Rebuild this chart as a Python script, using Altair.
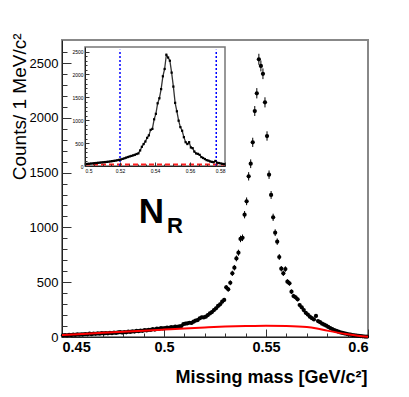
import altair as alt
import numpy as np
import pandas as pd

# ---------------- data ----------------
bin_start = 0.45
bin_width = 0.001
counts = [
    15, 18, 14, 20, 17, 22, 19, 24, 21, 25,
    23, 27, 25, 30, 26, 31, 29, 33, 30, 35,
    32, 36, 34, 38, 35, 40, 37, 42, 44, 40,
    45, 43, 48, 46, 52, 50, 55, 53, 58, 56,
    62, 60, 66, 64, 72, 68, 76, 74, 82, 78,
    82, 86, 84, 90, 88, 95, 92, 98, 100, 118,
    122, 125, 130, 128, 140, 150, 155, 170, 180, 178,
    185, 200, 215, 228, 246, 262, 283, 298, 322, 338,
    453, 435, 495, 581, 632, 717, 769, 895, 905, 1116,
    1238, 1466, 1581, 1776, 2062, 2224, 2534, 2473, 2402, 2141,
    1834, 1481, 1296, 1092, 952, 870, 730, 623, 581, 620,
    505, 490, 413, 374, 362, 344, 292, 271, 246, 221,
    205, 185, 172, 160, 192, 145, 135, 122, 112, 103,
    92, 82, 72, 62, 55, 48, 42, 37, 33, 29,
    25, 21, 18, 15, 12, 10, 8, 6, 4, 3,
]
bkg_x = [0.45, 0.46, 0.47, 0.48, 0.49, 0.50, 0.51, 0.52, 0.53, 0.54, 0.55,
         0.56, 0.57, 0.575, 0.58, 0.585, 0.59, 0.595, 0.60]
bkg_y = [18, 28, 38, 48, 58, 68, 78, 87, 95, 100, 103,
         101, 92, 78, 58, 40, 25, 12, 2]

inset_start = 0.50
inset_counts = [
    43, 47, 50, 54, 57, 62, 66, 70, 74, 78,
    82, 86, 90, 95, 100, 106, 112, 118, 126, 134,
    142, 155, 168, 182, 196, 208, 220, 232, 245, 262,
    275, 340, 420, 480, 535, 615, 670, 790, 810, 1020,
    1140, 1370, 1480, 1680, 1960, 2120, 2430, 2370, 2300, 2040,
    1735, 1380, 1195, 990, 850, 770, 630, 520, 480, 520,
    405, 390, 315, 275, 265, 244, 195, 175, 152, 128,
    118, 100, 90, 82, 110, 72, 65, 56, 48, 40,
]
window_edges = [0.52, 0.575]
inset_zero_level = [35]

x_ticks = [0.45, 0.5, 0.55, 0.6]
x_minor = [0.46, 0.47, 0.48, 0.49, 0.51, 0.52, 0.53, 0.54, 0.56, 0.57, 0.58, 0.59]
y_ticks = [0, 500, 1000, 1500, 2000, 2500]
y_minor = [v for v in range(100, 2700, 100) if v % 500 != 0]
ix_ticks = [0.5, 0.52, 0.54, 0.56, 0.58]
ix_minor = [0.505, 0.51, 0.515, 0.525, 0.53, 0.535, 0.545, 0.55, 0.555,
            0.565, 0.57, 0.575]
iy_ticks = [0, 500, 1000, 1500, 2000, 2500]
iy_minor = [v for v in range(100, 2600, 100) if v % 500 != 0]
label_text = ["N", "R"]

# ---------------- layout ----------------
W, H = 306, 297
FONT = "Liberation Sans"
X_DOM = [0.45, 0.60]
Y_DOM = [0, 2710]
IX_DOM = [0.50, 0.58]
IY_DOM = [0, 2600]
IX_RANGE = [23, 163]
IY_RANGE = [126, 7]

centers = np.round(bin_start + bin_width * (np.arange(len(counts)) + 0.5), 4)
main_df = pd.DataFrame({"mass": centers, "n": counts})
bkg_df = pd.DataFrame({"mass": bkg_x, "fit": bkg_y})
icenters = np.round(inset_start + bin_width * (np.arange(len(inset_counts)) + 0.5), 4)
inset_df = pd.DataFrame({"mass": icenters, "n": inset_counts})

xs = alt.Scale(domain=X_DOM, nice=False, zero=False)
ys = alt.Scale(domain=Y_DOM, nice=False, zero=False)
ixs = alt.Scale(domain=IX_DOM, range=IX_RANGE, nice=False, zero=False)
iys = alt.Scale(domain=IY_DOM, range=IY_RANGE, nice=False, zero=False)

# main points with labelled axes
pts = alt.Chart(main_df).mark_circle(size=18, color="black", opacity=1).encode(
    x=alt.X("mass:Q", scale=xs, axis=alt.Axis(
        orient="bottom", values=x_ticks, format=".2~f", tickSize=0,
        labelFont=FONT, labelFontSize=14.5, labelFontWeight="bold", labelColor="black",
        labelPadding=3, domainColor="#222", domainWidth=1,
        title="Missing mass [GeV/c²]", titleFont=FONT, titleFontSize=18,
        titleFontWeight="bold", titleColor="black", titleX=W - 1, titleY=45,
        titleAlign="right", titleBaseline="alphabetic", grid=False)),
    y=alt.Y("n:Q", scale=ys, axis=alt.Axis(
        orient="left", values=y_ticks, format="d", tickSize=0,
        labelFont=FONT, labelFontSize=13, labelColor="black", labelPadding=4,
        domainColor="#222", domainWidth=1,
        title="Counts/ 1 MeV/c²", titleFont=FONT, titleFontSize=19,
        titleFontWeight="normal", titleColor="black", titleX=-37, titleY=-7,
        titleAngle=270, titleAlign="right", titleBaseline="alphabetic", grid=False)),
)

err = alt.Chart(main_df).transform_calculate(
    lo="datum.n - sqrt(datum.n)", hi="datum.n + sqrt(datum.n)"
).mark_rule(color="black", strokeWidth=1).encode(
    x=alt.X("mass:Q", scale=xs, axis=None),
    y=alt.Y("lo:Q", scale=ys, axis=None),
    y2="hi:Q",
)

bkg = alt.Chart(bkg_df).mark_line(color="#ff0000", strokeWidth=2, interpolate="monotone").encode(
    x=alt.X("mass:Q", scale=xs, axis=None),
    y=alt.Y("fit:Q", scale=ys, axis=None),
)


def tick_layer(df, xscale, yscale, xvals, yvals, xlen, ylen, xoff, yoff, z=0):
    return alt.Chart(df).mark_point(opacity=0, size=1).encode(
        x=alt.X("mass:Q", scale=xscale, axis=alt.Axis(
            orient="top", offset=xoff, values=xvals, labels=False, domain=False,
            tickSize=xlen, tickColor="#333", tickWidth=1, title=None, grid=False, zindex=z)),
        y=alt.Y("n:Q", scale=yscale, axis=alt.Axis(
            orient="right", offset=yoff, values=yvals, labels=False, domain=False,
            tickSize=ylen, tickColor="#333", tickWidth=1, title=None, grid=False, zindex=z)),
    )


main_major = tick_layer(main_df, xs, ys, x_ticks, y_ticks, 8, 9, -H, -W)
main_minor = tick_layer(main_df, xs, ys, x_minor, y_minor, 4, 5, -H, -W)

txt_df = pd.DataFrame({"t": label_text})
txt_n = alt.Chart(txt_df).transform_filter("datum.t == 'N'").mark_text(
    font=FONT, fontSize=35, fontWeight="bold", color="black", align="right",
    baseline="alphabetic").encode(text="t:N", x=alt.value(102), y=alt.value(183))
txt_r = alt.Chart(txt_df).transform_filter("datum.t == 'R'").mark_text(
    font=FONT, fontSize=22, fontWeight="bold", color="black", align="left",
    baseline="alphabetic").encode(text="t:N", x=alt.value(105), y=alt.value(193))

main = alt.layer(pts, err, bkg, main_major, main_minor, txt_n, txt_r).resolve_axis(
    x="independent", y="independent")

# ---------------- inset ----------------
frame_df = pd.DataFrame({"x0": [IX_DOM[0]], "x1": [IX_DOM[1]], "y0": [IY_DOM[0]], "y1": [IY_DOM[1]]})
frame = alt.Chart(frame_df).mark_rect(fill="white", stroke="#777", strokeWidth=1.5).encode(
    x=alt.X("x0:Q", scale=ixs, axis=alt.Axis(
        orient="bottom", offset=-(H - IY_RANGE[0]), values=ix_ticks, format=".2~f",
        tickSize=0, labelFont=FONT, labelFontSize=5, labelColor="black", labelPadding=2,
        domainColor="#222", domainWidth=1, title=None, grid=False, zindex=1)),
    x2="x1:Q",
    y=alt.Y("y0:Q", scale=iys, axis=alt.Axis(
        orient="left", offset=-IX_RANGE[0], values=iy_ticks, format="d",
        tickSize=0, labelFont=FONT, labelFontSize=5, labelColor="black", labelPadding=2,
        domainColor="#222", domainWidth=1, title=None, grid=False, zindex=1)),
    y2="y1:Q",
)

iline = alt.Chart(inset_df).mark_line(color="#333", strokeWidth=1.3).encode(
    x=alt.X("mass:Q", scale=ixs, axis=None),
    y=alt.Y("n:Q", scale=iys, axis=None),
)
ipts = alt.Chart(inset_df).mark_square(size=5, color="black", opacity=1).encode(
    x=alt.X("mass:Q", scale=ixs, axis=None),
    y=alt.Y("n:Q", scale=iys, axis=None),
)
edges_df = pd.DataFrame({"edge": window_edges, "lo": [IY_DOM[0]] * len(window_edges),
                         "hi": [2540] * len(window_edges)})
vlines = alt.Chart(edges_df).mark_rule(color="#0000ff", strokeWidth=1.5, strokeDash=[2, 2]).encode(
    x=alt.X("edge:Q", scale=ixs, axis=None),
    y=alt.Y("lo:Q", scale=iys, axis=None),
    y2="hi:Q",
)
zero_df = pd.DataFrame({"a": [IX_DOM[0]], "b": [IX_DOM[1]], "lev": inset_zero_level})
hline = alt.Chart(zero_df).mark_rule(color="#ff2020", strokeWidth=2, strokeDash=[5, 3]).encode(
    x=alt.X("a:Q", scale=ixs, axis=None),
    x2="b:Q",
    y=alt.Y("lev:Q", scale=iys, axis=None),
)

inset_major = tick_layer(inset_df, ixs, iys, ix_ticks, iy_ticks, 4, 4,
                         -IY_RANGE[0], -(W - IX_RANGE[0]), z=1)
inset_minor = tick_layer(inset_df, ixs, iys, ix_minor, iy_minor, 2, 2,
                         -IY_RANGE[0], -(W - IX_RANGE[0]), z=1)

inset = alt.layer(frame, hline, vlines, iline, ipts, inset_major, inset_minor).resolve_axis(
    x="independent", y="independent")

chart = alt.layer(main, inset).resolve_scale(
    x="independent", y="independent"
).properties(
    width=W, height=H,
    autosize=alt.AutoSizeParams(type="none"),
    padding={"left": 54, "top": 32, "right": 25, "bottom": 54},
    background="white",
).configure_view(stroke="#888", strokeWidth=2)

chart.save("out.html", embed_options={"renderer": "svg", "actions": False})
